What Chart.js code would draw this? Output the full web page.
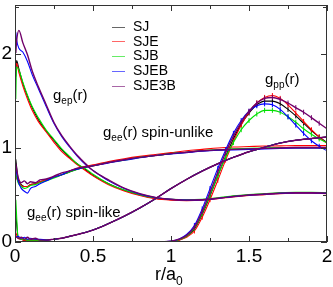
<!DOCTYPE html>
<html><head><meta charset="utf-8">
<script src="https://cdn.jsdelivr.net/npm/chart.js@4.4.1/dist/chart.umd.min.js"></script>
<style>
html,body{margin:0;padding:0;background:#fff;}
#wrap{position:relative;width:333px;height:287px;overflow:hidden;font-family:"Liberation Sans",Arial,sans-serif;color:#000;}
canvas{position:absolute;left:0;top:0;}
.t{position:absolute;white-space:nowrap;font-size:15px;line-height:15px;}
.t sub{font-size:10px;vertical-align:-4px;line-height:0;}
.lg{position:absolute;left:112px;font-size:14px;line-height:14px;white-space:nowrap;}
.lg i{display:inline-block;width:13px;height:0;border-top:1px solid;vertical-align:middle;margin-right:8px;opacity:0.6;}
#xt{position:absolute;left:155px;top:265px;font-size:18px;line-height:18px;white-space:nowrap;}
#xt sub{font-size:12px;vertical-align:-5px;line-height:0;}
</style></head><body>
<div id="wrap">
<canvas id="c" width="333" height="287"></canvas>
<div class="t" style="left:53px;top:87px">g<sub>ep</sub>(r)</div>
<div class="t" style="left:265px;top:71px">g<sub>pp</sub>(r)</div>
<div class="t" style="left:103px;top:124px">g<sub>ee</sub>(r) spin-unlike</div>
<div class="t" style="left:27px;top:204px">g<sub>ee</sub>(r) spin-like</div>
<div id="xt">r/a<sub>0</sub></div>
<div id="legend"></div>
</div>
<script>
// ---- data ----
const seriesNames = ["SJ", "SJE", "SJB", "SJEB", "SJE3B"];
const seriesColors = ["#000000", "#ff0000", "#00e000", "#0000ff", "#70006a"];

const xMajor = [0, 0.5, 1, 1.5, 2];
const xMinor = [0.25, 0.75, 1.25, 1.75];
const yMajor = [0, 1, 2];
const yMinor = [0.5, 1.5, 2.5];

// g_ep(r)
const rEp = [0.005,0.01,0.025,0.05,0.08,0.11,0.15,0.2,0.25,0.3,0.35,0.4,0.46,0.5,0.6,0.7,0.8,0.9,1.0,1.1,1.2,1.3,1.4,1.5,1.6,1.7,1.8,1.9,2.0];
const gepSJ    = [1.76,1.93,1.84,1.69,1.55,1.43,1.30,1.18,1.08,0.98,0.90,0.83,0.76,0.71,0.62,0.55,0.50,0.465,0.45,0.445,0.45,0.465,0.485,0.50,0.51,0.52,0.524,0.524,0.52];
const gepSJE   = [1.86,1.90,1.80,1.66,1.52,1.40,1.28,1.17,1.06,0.96,0.89,0.82,0.75,0.705,0.61,0.543,0.494,0.46,0.445,0.44,0.445,0.46,0.48,0.494,0.504,0.514,0.519,0.519,0.514];
const gepSJB   = [1.52,1.86,1.83,1.70,1.56,1.44,1.32,1.19,1.09,0.99,0.91,0.83,0.77,0.72,0.62,0.553,0.504,0.47,0.455,0.45,0.455,0.47,0.49,0.504,0.514,0.524,0.529,0.529,0.524];
const gepSJEB  = [2.23,2.15,2.06,2.02,1.92,1.78,1.63,1.44,1.26,1.12,1.01,0.91,0.81,0.76,0.65,0.568,0.509,0.473,0.453,0.445,0.448,0.463,0.482,0.497,0.507,0.517,0.522,0.522,0.517];
const gepSJE3B = [2.01,2.13,2.25,2.12,1.99,1.82,1.65,1.46,1.27,1.13,1.02,0.92,0.82,0.76,0.66,0.573,0.514,0.475,0.455,0.445,0.45,0.465,0.485,0.50,0.51,0.52,0.524,0.524,0.52];

// g_ee(r) spin-unlike and spin-like
const rEe = [0.005,0.02,0.04,0.06,0.08,0.1,0.13,0.16,0.2,0.25,0.3,0.35,0.4,0.5,0.6,0.7,0.8,0.9,1.0,1.1,1.2,1.3,1.4,1.5,1.6,1.7,1.8,1.9,2.0];
const geuSJ    = [0.88,0.67,0.61,0.59,0.59,0.61,0.62,0.64,0.66,0.69,0.715,0.745,0.775,0.81,0.845,0.875,0.90,0.92,0.94,0.955,0.97,0.98,0.985,0.99,0.995,1.0,1.0,1.0,1.0];
const geuSJE   = [0.70,0.64,0.60,0.59,0.59,0.61,0.62,0.64,0.66,0.69,0.715,0.755,0.785,0.82,0.855,0.885,0.91,0.93,0.95,0.97,0.985,1.0,1.01,1.015,1.02,1.022,1.025,1.025,1.025];
const geuSJB   = [0.73,0.63,0.59,0.57,0.58,0.60,0.61,0.63,0.65,0.68,0.715,0.745,0.775,0.81,0.845,0.87,0.90,0.92,0.94,0.955,0.97,0.98,0.99,0.995,1.0,1.005,1.005,1.005,1.005];
const geuSJEB  = [0.78,0.65,0.57,0.54,0.52,0.57,0.59,0.62,0.65,0.69,0.715,0.755,0.775,0.81,0.84,0.87,0.895,0.92,0.935,0.95,0.965,0.975,0.98,0.985,0.99,0.995,1.0,1.0,1.0];
const geuSJE3B = [0.83,0.69,0.63,0.65,0.62,0.64,0.63,0.66,0.67,0.70,0.735,0.755,0.785,0.81,0.845,0.875,0.90,0.92,0.94,0.955,0.97,0.98,0.985,0.99,0.995,1.0,1.005,1.005,1.005];

const gelSJ    = [0.30,0.05,0.03,0.02,0.02,0.02,0.02,0.02,0.02,0.03,0.04,0.06,0.08,0.127,0.196,0.274,0.362,0.46,0.568,0.666,0.754,0.832,0.90,0.96,1.008,1.052,1.082,1.10,1.116];
const gelSJE   = [0.10,0.04,0.03,0.02,0.02,0.02,0.02,0.02,0.02,0.03,0.04,0.06,0.08,0.127,0.196,0.274,0.362,0.46,0.568,0.666,0.754,0.832,0.90,0.96,1.008,1.052,1.082,1.10,1.116];
const gelSJB   = [0.45,0.05,0.03,0.03,0.02,0.02,0.02,0.02,0.02,0.03,0.04,0.06,0.08,0.127,0.196,0.274,0.362,0.46,0.568,0.666,0.754,0.832,0.90,0.96,1.008,1.052,1.082,1.10,1.116];
const gelSJEB  = [0.05,0.06,0.04,0.05,0.03,0.04,0.03,0.03,0.02,0.03,0.04,0.06,0.08,0.127,0.196,0.274,0.362,0.46,0.568,0.666,0.754,0.832,0.90,0.96,1.008,1.052,1.082,1.10,1.116];
const gelSJE3B = [0.06,0.04,0.05,0.03,0.05,0.03,0.04,0.02,0.02,0.03,0.04,0.06,0.08,0.127,0.196,0.274,0.362,0.46,0.568,0.666,0.754,0.832,0.90,0.96,1.008,1.052,1.082,1.10,1.116];

// g_pp(r)
const rPp = [0,0.2,0.4,0.6,0.8,0.9,1.0,1.05,1.1,1.15,1.2,1.25,1.3,1.35,1.4,1.45,1.5,1.55,1.6,1.65,1.7,1.75,1.8,1.85,1.9,1.95,2.0];
const gppSJ    = [0,0,0,0,0,0,0.005,0.02,0.06,0.137,0.294,0.49,0.705,0.91,1.096,1.253,1.371,1.459,1.498,1.498,1.469,1.41,1.341,1.263,1.185,1.116,1.057];
const gppSJE   = [0,0,0,0,0,0,0.005,0.02,0.05,0.117,0.264,0.45,0.656,0.871,1.067,1.243,1.38,1.478,1.537,1.557,1.527,1.459,1.371,1.282,1.194,1.116,1.048];
const gppSJB   = [0,0,0,0,0,0,0.005,0.025,0.06,0.147,0.303,0.50,0.705,0.90,1.057,1.194,1.292,1.361,1.40,1.40,1.38,1.331,1.273,1.204,1.145,1.096,1.057];
const gppSJEB  = [0,0,0,0,0,0,0.01,0.03,0.08,0.176,0.352,0.568,0.783,0.979,1.155,1.292,1.39,1.449,1.469,1.459,1.41,1.331,1.243,1.155,1.077,1.018,0.969];
const gppSJE3B = [0,0,0,0,0,0,0.008,0.03,0.07,0.157,0.323,0.529,0.744,0.95,1.126,1.273,1.39,1.478,1.527,1.537,1.517,1.478,1.429,1.38,1.322,1.263,1.204];

const gep = [gepSJ, gepSJE, gepSJB, gepSJEB, gepSJE3B];
const geu = [geuSJ, geuSJE, geuSJB, geuSJEB, geuSJE3B];
const gel = [gelSJ, gelSJE, gelSJB, gelSJEB, gelSJE3B];
const gpp = [gppSJ, gppSJE, gppSJB, gppSJEB, gppSJE3B];

// ---- build datasets ----
function pts(r, g) { return r.map((x, i) => ({ x: x, y: g[i] })); }
const datasets = [];
seriesNames.forEach((name, s) => {
  const col = seriesColors[s];
  const ord = seriesNames.length - 1 - s;
  const base = { borderColor: col, backgroundColor: col, borderWidth: s === 4 ? 1.4 : 1.1,
    pointRadius: 0, cubicInterpolationMode: 'monotone', fill: false, order: ord };
  datasets.push(Object.assign({}, base, { label: name + ' gep', data: pts(rEp, gep[s]) }));
  datasets.push(Object.assign({}, base, { label: name + ' gee unlike', data: pts(rEe, geu[s]) }));
  datasets.push(Object.assign({}, base, { label: name + ' gee like', data: pts(rEe, gel[s]) }));
  datasets.push(Object.assign({}, base, { label: name + ' gpp', data: pts(rPp, gpp[s]),
    pointStyle: 'line', rotation: 90, pointRadius: (ctx) => (ctx.raw && ctx.raw.x >= 1.15 ? 2.5 : 0),
    pointBorderColor: col, pointBorderWidth: 1 }));
});

// ---- legend (HTML text) ----
const lg = document.getElementById('legend');
seriesNames.forEach((name, s) => {
  const d = document.createElement('div');
  d.className = 'lg';
  d.style.top = (19 + s * 14.7) + 'px';
  d.innerHTML = '<i style="border-color:' + seriesColors[s] + '"></i>' + name;
  lg.appendChild(d);
});

// ---- frame with inward ticks ----
const frameTicks = {
  id: 'frameTicks',
  afterDraw(chart) {
    const { ctx, chartArea: a, scales: { x, y } } = chart;
    ctx.save();
    ctx.strokeStyle = '#333';
    ctx.lineWidth = 1;
    ctx.strokeRect(a.left + 0.5, a.top + 0.5, a.right - a.left - 1, a.bottom - a.top - 1);
    ctx.beginPath();
    const xt = (v, L) => { const p = Math.round(x.getPixelForValue(v)) + 0.5;
      ctx.moveTo(p, a.bottom); ctx.lineTo(p, a.bottom - L); ctx.moveTo(p, a.top); ctx.lineTo(p, a.top + L); };
    const yt = (v, L) => { const p = Math.round(y.getPixelForValue(v)) + 0.5;
      ctx.moveTo(a.left, p); ctx.lineTo(a.left + L, p); ctx.moveTo(a.right, p); ctx.lineTo(a.right - L, p); };
    xMajor.forEach(v => xt(v, 6)); xMinor.forEach(v => xt(v, 4));
    yMajor.forEach(v => yt(v, 6)); yMinor.forEach(v => yt(v, 4));
    ctx.stroke();
    ctx.restore();
  }
};

const tickFont = { family: '"Liberation Sans", Arial, sans-serif', size: 19 };
new Chart(document.getElementById('c'), {
  type: 'line',
  data: { datasets: datasets },
  options: {
    responsive: false, animation: false, devicePixelRatio: 1,
    layout: { padding: { top: 2, right: 6, left: 0, bottom: 0 } },
    plugins: { legend: { display: false }, tooltip: { enabled: false } },
    scales: {
      x: { type: 'linear', min: 0, max: 2,
        grid: { display: false, drawTicks: false }, border: { display: false },
        afterBuildTicks: (sc) => { sc.ticks = xMajor.map(v => ({ value: v })); },
        afterFit: (sc) => { sc.height = 45; sc.paddingLeft = 0; sc.paddingRight = 0; },
        ticks: { color: '#000', font: tickFont, padding: 3, maxRotation: 0, autoSkip: false,
          callback: (v) => String(v) } },
      y: { type: 'linear', min: 0, max: 2.52,
        grid: { display: false, drawTicks: false }, border: { display: false },
        afterBuildTicks: (sc) => { sc.ticks = yMajor.map(v => ({ value: v })); },
        afterFit: (sc) => { sc.width = 15; sc.paddingTop = 0; sc.paddingBottom = 0; },
        ticks: { color: '#000', font: tickFont, padding: 3, autoSkip: false,
          callback: (v) => String(v) } }
    }
  },
  plugins: [frameTicks]
});
</script>
</body></html>
